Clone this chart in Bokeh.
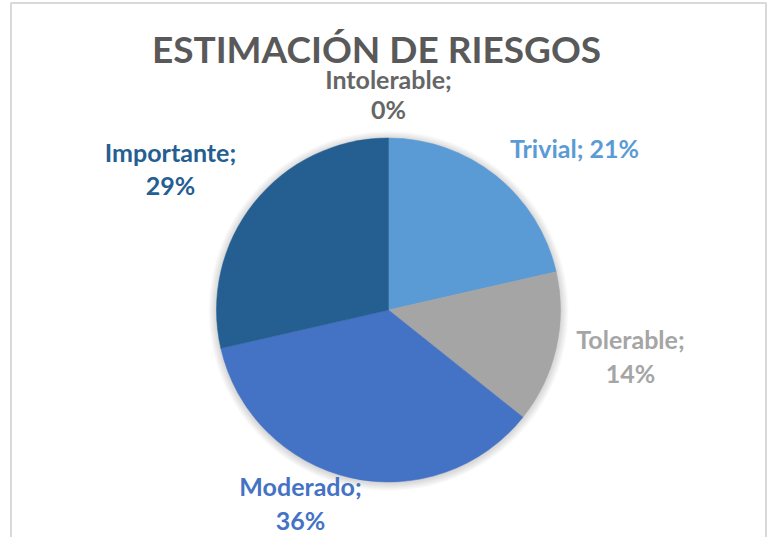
import math
from bokeh.plotting import figure
from bokeh.models import Range1d
from bokeh.core.properties import value
from bokeh.embed import file_html
from bokeh.resources import INLINE

# ---- data ----
categories = ["Intolerable", "Trivial", "Tolerable", "Moderado", "Importante"]
counts = [0, 3, 2, 5, 4]
colors = ["#666666", "#5B9BD5", "#A5A5A5", "#4472C4", "#255E91"]
title_text = "ESTIMACIÓN DE RIESGOS"

# ---- layout (page pixels, y measured downward from the top) ----
W, H = 769, 537
CX, CY, R = 388, 309.5, 172
label_x = [388, 574, 630, 300, 170]
label_y = [78, 147, 338, 485, 151]
label_gap = [30, 0, 34, 34, 33]
label_wrap = [True, False, True, True, True]
FONT = "Lato"


def Y(page_y):
    return H - page_y


p = figure(width=W, height=H, output_backend="svg", toolbar_location=None,
           x_range=Range1d(0, W), y_range=Range1d(0, H),
           min_border=0, outline_line_color=None)
p.axis.visible = False
p.grid.visible = False
p.background_fill_color = "white"
p.border_fill_color = "white"

# chart border (left 10, top 2, right 765, runs past bottom)
p.quad(left=[10.5], right=[765.5], top=[Y(2.5)], bottom=[Y(545)],
       fill_color=None, line_color="#D9D9D9", line_width=2)

# soft shadow around pie
for k in range(8, 0, -1):
    p.circle(x=[CX], y=[Y(CY + 1)], radius=R + k, fill_color="black", fill_alpha=0.018,
             line_color=None)

total = sum(counts)
cum = 0.0
for cat, c, col in zip(categories, counts, colors):
    frac = c / total
    if c > 0:
        a0 = math.pi / 2 - 2 * math.pi * cum
        a1 = math.pi / 2 - 2 * math.pi * (cum + frac)
        p.wedge(x=[CX], y=[Y(CY)], radius=R, start_angle=[a0], end_angle=[a1],
                direction="clock", fill_color=col, line_color=col, line_width=0.5)
    cum += frac

# labels
for cat, c, col, lx, ly, gap, wrap in zip(categories, counts, colors, label_x, label_y,
                                          label_gap, label_wrap):
    pct = f"{round(c / total * 100)}%"
    lines = [f"{cat};", pct] if wrap else [f"{cat}; {pct}"]
    for i, t in enumerate(lines):
        p.text(x=[lx], y=[Y(ly + i * gap)], text=[t], text_font=value(FONT),
               text_font_style="bold", text_font_size="25px", text_color=col,
               text_align="center", text_baseline="alphabetic")

p.text(x=[376], y=[Y(48)], text=[title_text], text_font=value(FONT), text_font_style="bold",
       text_font_size="37px", text_color="#595959", text_align="center",
       text_baseline="alphabetic")

open("out.html", "w").write(file_html(p, INLINE))
